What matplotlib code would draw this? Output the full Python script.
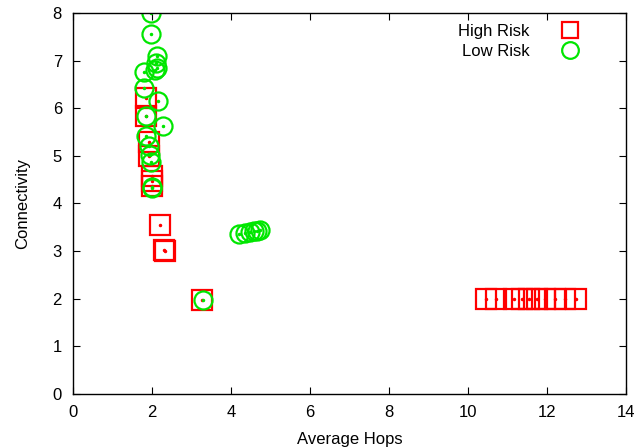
import matplotlib
matplotlib.use("Agg")
import matplotlib.pyplot as plt

plt.rcParams["font.family"] = ["Liberation Sans", "DejaVu Sans"]

# High-risk nodes: (average hops, connectivity)
high_hops = [1.84, 1.84, 1.91, 1.93, 1.99, 1.99, 1.99, 2.21, 2.30, 2.33, 3.26,
             10.45, 10.70, 11.15, 11.35, 11.55, 11.75, 11.95, 12.20, 12.45, 12.72]
high_conn = [6.21, 5.83, 5.30, 4.99, 4.57, 4.46, 4.36, 3.54, 3.03, 3.00, 1.96,
             2.00, 2.00, 2.00, 2.00, 2.00, 2.00, 2.00, 2.00, 2.00, 2.00]

# Low-risk nodes
low_hops = [1.97, 1.96, 2.13, 2.10, 2.12, 2.08, 1.80, 1.80, 2.16, 1.84, 2.27,
            1.84, 1.91, 1.95, 1.97, 2.01, 2.01, 3.28,
            4.19, 4.35, 4.48, 4.58, 4.65, 4.73]
low_conn = [8.00, 7.56, 7.09, 6.95, 6.84, 6.81, 6.75, 6.42, 6.16, 5.83, 5.62,
            5.41, 5.20, 5.02, 4.88, 4.34, 4.32, 1.96,
            3.36, 3.37, 3.39, 3.41, 3.43, 3.45]

red = "#ff0000"
green = "#00e600"

fig = plt.figure(figsize=(6.41, 4.48), dpi=100)
ax = fig.add_axes([0.114, 0.121, 0.863, 0.850])

ax.plot(high_hops, high_conn, linestyle="none", marker="s", markersize=14,
        markerfacecolor="none", markeredgecolor=red, markeredgewidth=1.6,
        label="High Risk")
ax.plot(high_hops, high_conn, linestyle="none", marker="o", markersize=1.5,
        color=red)
ax.plot(low_hops, low_conn, linestyle="none", marker="o", markersize=13,
        markerfacecolor="none", markeredgecolor=green, markeredgewidth=1.6,
        label="Low Risk")
ax.plot(low_hops, low_conn, linestyle="none", marker="o", markersize=1.5,
        color=green)

ax.set_xlim(0, 14)
ax.set_ylim(0, 8)
ax.set_xticks(range(0, 15, 2))
ax.set_yticks(range(0, 9))
ax.tick_params(direction="in", top=True, right=True, length=5, width=0.8,
               labelsize=12, pad=8)
for s in ax.spines.values():
    s.set_linewidth(1.0)

ax.set_xlabel("Average Hops", fontsize=12, labelpad=9)
ax.set_ylabel("Connectivity", fontsize=12, labelpad=16)

leg = ax.legend(loc="upper right", bbox_to_anchor=(0.949, 1.011),
                frameon=False, markerfirst=False,
                fontsize=12, handletextpad=1.6, handlelength=1.6,
                labelspacing=0.3, borderaxespad=0.5)
for h in leg.legend_handles:
    h.set_markersize(12)

fig.savefig("out.png", dpi=100)
